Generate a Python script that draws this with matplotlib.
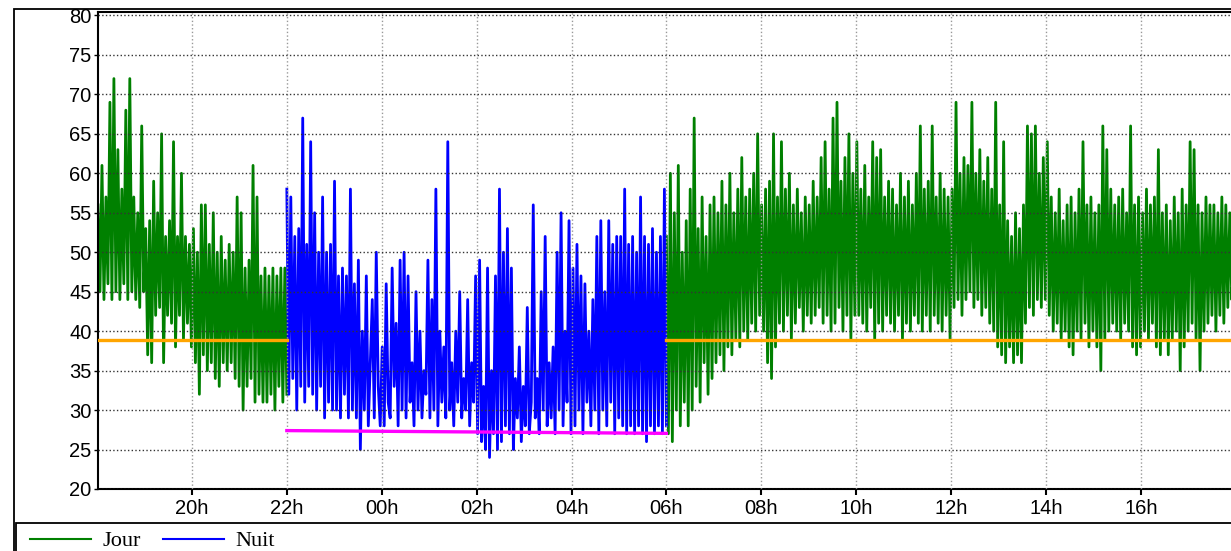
import numpy as np
import matplotlib.pyplot as plt
import matplotlib.transforms as mtransforms
from matplotlib.lines import Line2D
from matplotlib.patches import Rectangle

# noise level readings (dB), every ~2.5 min
jour_soir = [
    56, 45, 61, 44, 57, 46, 69, 44, 72, 45, 63, 44,
    58, 46, 68, 44, 72, 45, 57, 44, 55, 43, 66, 45,
    53, 37, 54, 36, 59, 42, 55, 43, 65, 36, 52, 42,
    54, 41, 64, 38, 52, 42, 60, 39, 52, 41, 51, 38,
    53, 36, 50, 32, 56, 37, 56, 35, 51, 36, 55, 34,
    50, 33, 52, 36, 49, 35, 51, 36, 50, 34, 57, 33,
    55, 30, 48, 33, 49, 34, 61, 31, 57, 32, 47, 31,
    48, 31, 47, 32, 48, 30, 47, 33, 48, 31, 48, 32,
]
nuit = [
    58, 32, 57, 34, 52, 30, 53, 33, 67, 31, 51, 33,
    64, 32, 55, 30, 50, 33, 57, 29, 50, 31, 51, 30,
    59, 30, 47, 29, 48, 32, 47, 29, 58, 30, 46, 29,
    49, 25, 40, 30, 47, 28, 36, 44, 29, 50, 33, 28,
    38, 28, 46, 31, 29, 48, 33, 41, 28, 49, 30, 50,
    29, 47, 31, 36, 28, 45, 30, 40, 29, 35, 32, 49,
    29, 44, 30, 58, 28, 40, 31, 38, 29, 64, 30, 36,
    28, 40, 31, 45, 29, 34, 30, 44, 28, 36, 31, 47,
    27, 49, 26, 33, 25, 48, 24, 35, 27, 47, 25, 58,
    26, 50, 28, 53, 27, 48, 25, 34, 29, 38, 26, 33,
    28, 43, 27, 31, 56, 29, 34, 27, 45, 30, 52, 28,
    36, 29, 38, 27, 50, 30, 55, 28, 40, 31, 54, 27,
    48, 28, 51, 30, 47, 27, 46, 31, 40, 28, 44, 30,
    52, 27, 54, 30, 45, 28, 54, 31, 51, 27, 52, 29,
    52, 28, 58, 27, 51, 28, 52, 27, 50, 28, 57, 27,
    52, 26, 51, 28, 53, 27, 50, 28, 52, 27, 58, 28,
]
jour_matin = [
    52, 27, 60, 26, 55, 30, 61, 28, 50, 31, 54, 28,
    58, 30, 67, 33, 53, 31, 57, 36, 52, 32, 56, 34,
    57, 36, 55, 37, 59, 35, 56, 38, 60, 37, 55, 39,
    58, 38, 62, 40, 57, 39, 58, 41, 60, 40, 65, 42,
    56, 40, 58, 36, 59, 34, 65, 38, 57, 41, 64, 40,
    58, 42, 60, 39, 56, 41, 58, 43, 55, 40, 57, 42,
    56, 41, 59, 42, 57, 43, 62, 41, 64, 42, 58, 40,
    67, 41, 69, 43, 59, 40, 62, 42, 65, 39, 60, 42,
    64, 42, 58, 41, 61, 40, 57, 43, 64, 39, 62, 41,
    63, 40, 57, 42, 59, 41, 58, 40, 56, 42, 60, 39,
    57, 41, 59, 40, 56, 42, 60, 41, 66, 40, 58, 42,
    59, 40, 66, 42, 57, 41, 60, 40, 58, 42, 57, 39,
    58, 43, 69, 44, 60, 42, 62, 44, 61, 45, 69, 43,
    60, 44, 63, 42, 59, 43, 62, 41, 58, 40, 69, 38,
    56, 37, 64, 36, 54, 38, 52, 36, 55, 37, 53, 36,
    56, 41, 66, 43, 65, 42, 66, 44, 60, 43, 62, 44,
    64, 42, 57, 40, 55, 41, 58, 39, 54, 40, 56, 38,
    57, 37, 55, 40, 58, 39, 64, 41, 56, 38, 57, 40,
    55, 38, 56, 35, 66, 39, 63, 40, 58, 41, 56, 40,
    57, 39, 58, 41, 55, 40, 66, 38, 56, 37, 57, 38,
    55, 40, 58, 39, 56, 41, 57, 38, 63, 37, 55, 39,
    56, 37, 54, 39, 57, 40, 55, 35, 58, 38, 56, 40,
    64, 41, 63, 39, 56, 35, 55, 40, 57, 41, 56, 42,
    56, 40, 55, 42, 57, 41, 56, 43, 55, 44, 56, 45,
]
# segment limits in hours (24 = midnight)
seg_soir = (18.02, 22.0)
seg_nuit = (22.0, 30.0)
seg_matin = (30.0, 42.0)
niveau_jour = 38.85
niveau_nuit = [27.4, 27.05]

tick_pos = [20, 22, 24, 26, 28, 30, 32, 34, 36, 38, 40]
tick_lab = ["20h", "22h", "00h", "02h", "04h", "06h", "08h", "10h", "12h", "14h", "16h"]

W, H = 1231, 551
fig = plt.figure(figsize=(W / 100, H / 100), dpi=100)
ax = fig.add_axes([98 / W, 1 - 489 / H, 1 - 98 / W, (489 - 11.5) / H])

t1 = np.linspace(seg_soir[0], seg_soir[1], len(jour_soir))
t2 = np.linspace(seg_nuit[0], seg_nuit[1], len(nuit))
t3 = np.linspace(seg_matin[0], seg_matin[1], len(jour_matin))
ax.plot(t1, jour_soir, color="#008000", lw=2.0, zorder=2)
ax.plot(t3, jour_matin, color="#008000", lw=2.0, zorder=2)
ax.plot(t2, nuit, color="#0000ff", lw=2.0, zorder=2)

ax.plot(seg_soir, [niveau_jour] * 2, color="#ffa500", lw=2.4, zorder=4)
ax.plot(seg_matin, [niveau_jour] * 2, color="#ffa500", lw=2.4, zorder=4)
ax.plot(seg_nuit, niveau_nuit, color="#ff00ff", lw=2.4, zorder=4)

ax.set_xlim(18.02, 41.9)
ax.set_ylim(20, 80.5)
ax.set_yticks(range(20, 81, 5))
ax.set_xticks(tick_pos)
ax.set_xticklabels(tick_lab)
for lab in ax.get_xticklabels() + ax.get_yticklabels():
    lab.set_fontfamily("Liberation Sans")
    lab.set_fontsize(14.5)
# the top label sits a little lower, inside the frame
top_lab = ax.yaxis.get_major_ticks()[-1].label1
top_lab.set_transform(top_lab.get_transform() +
                      mtransforms.ScaledTranslation(0, -6 / 100, fig.dpi_scale_trans))
ax.tick_params(axis="y", length=3, width=1, pad=1.5)
ax.tick_params(axis="x", length=4, width=1.5, pad=3)
ax.set_axisbelow(False)
ax.xaxis.grid(True, color="#999999", ls=":", lw=1)
ax.yaxis.grid(True, color="#333333", ls=":", lw=1)
for s in ["left", "bottom", "top"]:
    ax.spines[s].set_linewidth(1.5)
ax.spines["right"].set_visible(False)

# outer frame + legend box
fig.add_artist(Rectangle((14 / W, -0.1), 1.1, 1 - 9 / H + 0.1, transform=fig.transFigure,
                         fill=False, ec="black", lw=1.3))
fig.add_artist(Rectangle((16 / W, -0.1), 1.1, 0.1 + (H - 523) / H, transform=fig.transFigure,
                         fill=False, ec="black", lw=1.3))

handles = [Line2D([], [], color="#008000", lw=1.5), Line2D([], [], color="#0000ff", lw=1.5)]
fig.legend(handles, ["Jour", "Nuit"], loc="center left", bbox_to_anchor=(30 / W, 1 - 541 / H),
           ncol=2, frameon=False, handlelength=2.75, handletextpad=0.5, columnspacing=1.0,
           prop={"family": "Liberation Serif", "size": 16}, borderaxespad=0, borderpad=0)

fig.savefig("out.png", dpi=100)
